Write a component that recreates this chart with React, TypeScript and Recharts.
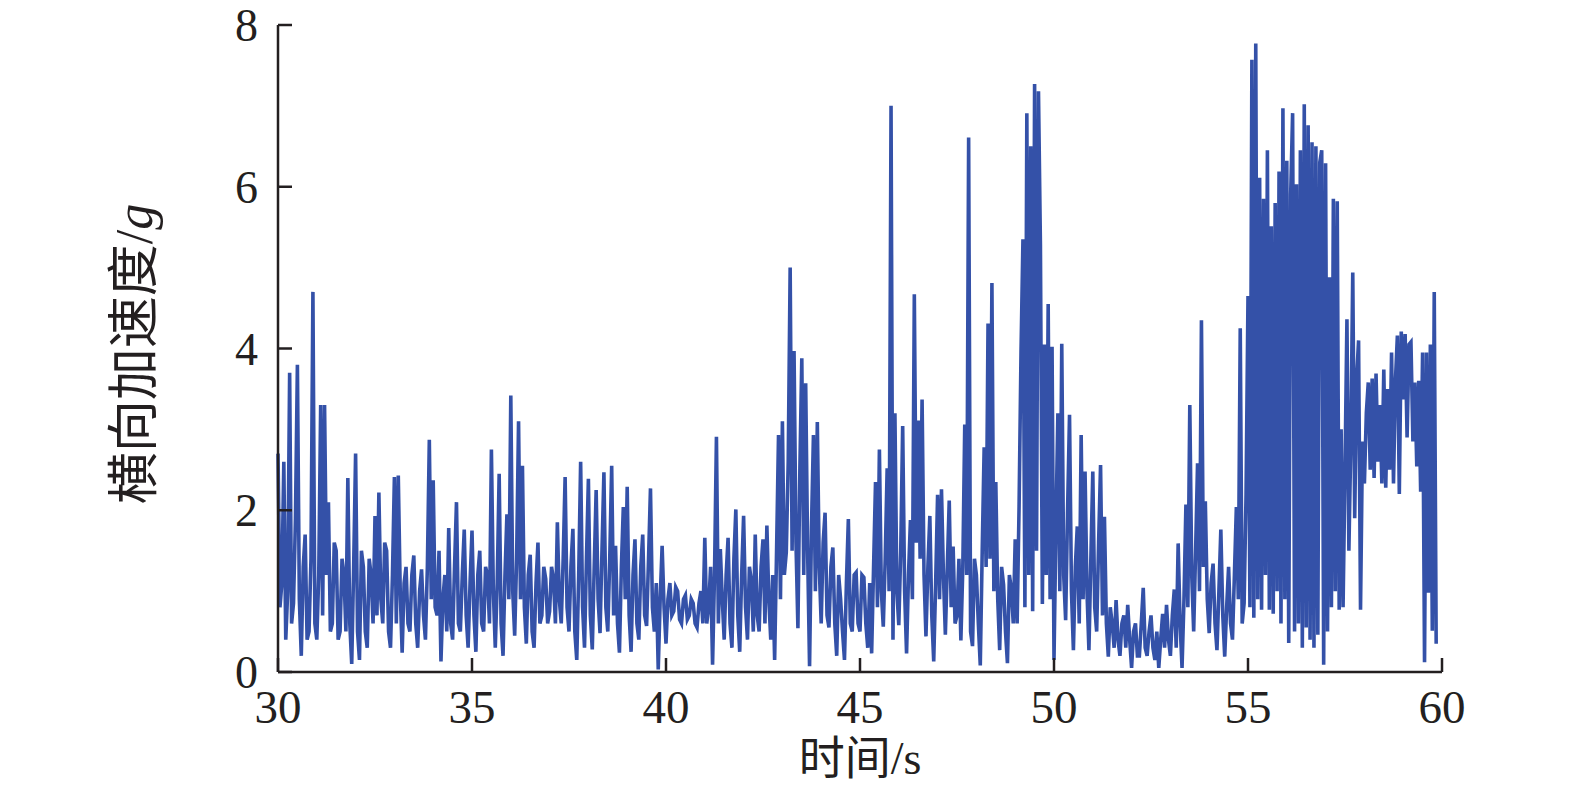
import React from "react";
import { LineChart, Line, XAxis, YAxis } from "recharts";

// lateral acceleration (g), one value every 0.05 s
const acc30to35 = [
  2.7, 0.8, 1.1, 2.6, 0.4, 1.0, 3.7, 0.6, 0.85, 1.9, 3.8, 0.9, 0.2, 1.3, 1.7, 0.4, 0.5, 1.4, 4.7, 0.6,
  0.4, 1.2, 3.3, 0.7, 3.3, 1.2, 2.1, 0.5, 0.6, 1.6, 1.5, 0.4, 0.5, 1.4, 1.2, 0.5, 2.4, 0.6, 0.1, 1.3,
  2.7, 0.5, 0.15, 1.5, 1.3, 0.5, 0.3, 1.4, 1.2, 0.6, 1.93, 0.7, 2.22, 0.9, 0.6, 1.6, 1.5, 0.5, 0.3, 1.2,
  2.41, 0.6, 2.43, 1.0, 0.24, 1.1, 1.3, 0.6, 0.5, 1.2, 1.44, 0.6, 0.3, 1.0, 1.27, 0.7, 0.4, 1.3, 2.87, 0.9,
  2.37, 0.8, 0.7, 1.5, 0.13, 0.9, 1.2, 0.5, 1.78, 0.6, 0.4, 1.3, 2.1, 0.6, 0.5, 1.2, 1.76, 0.7, 0.3, 1.1,
];
const acc35to40 = [
  1.75, 0.7, 0.25, 1.2, 1.5, 0.6, 0.5, 1.3, 1.2, 0.6, 2.75, 1.0, 0.3, 1.1, 2.45, 0.6, 0.2, 1.2, 1.95, 0.9,
  3.42, 1.0, 0.45, 1.4, 3.1, 0.9, 2.55, 0.8, 0.35, 1.2, 1.45, 0.5, 0.3, 1.1, 1.6, 0.6, 0.7, 1.3, 1.15, 0.6,
  0.75, 1.3, 1.15, 0.6, 1.85, 0.9, 0.6, 1.4, 2.41, 0.8, 0.5, 1.3, 1.77, 0.5, 0.15, 1.2, 2.6, 0.8, 0.3, 1.4,
  2.39, 0.7, 0.28, 1.3, 2.25, 0.9, 0.48, 1.5, 2.47, 0.8, 0.5, 1.4, 2.55, 0.7, 1.56, 0.6, 0.24, 1.3, 2.04, 0.9,
  2.29, 0.7, 0.25, 1.2, 1.64, 0.6, 0.4, 1.3, 1.7, 0.7, 0.57, 1.4, 2.27, 0.8, 0.5, 1.1, 0.03, 0.9, 1.56, 0.8,
];
const acc40to45 = [
  0.35, 0.9, 1.1, 0.7, 0.75, 1.05, 1.0, 0.65, 0.6, 0.9, 0.95, 0.65, 0.7, 0.9, 0.85, 0.6, 0.55, 0.85, 1.0, 0.6,
  1.66, 0.6, 0.8, 1.3, 0.09, 1.2, 2.91, 0.6, 1.52, 0.9, 0.4, 1.2, 1.66, 0.6, 0.3, 1.4, 2.01, 0.7, 0.25, 1.2,
  1.93, 0.8, 0.4, 1.3, 1.13, 0.5, 1.7, 0.7, 0.5, 1.3, 1.64, 0.6, 1.81, 0.9, 0.4, 1.2, 0.15, 1.5, 2.93, 0.9,
  3.1, 1.2, 1.48, 2.6, 5.0, 1.5, 3.97, 1.6, 0.54, 2.5, 3.88, 1.2, 3.57, 1.5, 0.07, 1.8, 2.93, 1.0, 3.09, 1.3,
  0.6, 1.6, 1.97, 0.7, 0.55, 1.3, 1.54, 0.6, 0.2, 1.2, 0.9, 0.5, 0.15, 1.1, 1.89, 0.6, 0.5, 1.2, 1.23, 0.6,
];
const acc45to49 = [
  0.5, 1.2, 1.17, 0.6, 0.3, 1.1, 0.23, 1.3, 2.35, 0.8, 2.75, 1.0, 0.56, 1.4, 2.52, 1.0, 7.0, 0.4, 3.2, 1.0,
  0.58, 1.5, 3.04, 1.0, 0.23, 1.2, 1.88, 0.9, 4.67, 1.6, 3.11, 1.4, 3.37, 1.2, 0.44, 1.3, 1.93, 0.7, 0.13, 1.1,
  2.19, 0.9, 2.26, 1.2, 0.46, 1.3, 2.12, 0.8, 1.55, 0.6, 0.7, 1.4, 0.39, 1.3, 3.06, 1.2, 6.61, 0.5, 0.32, 1.4,
  1.2, 0.6, 0.08, 1.5, 2.78, 1.3, 4.31, 1.4, 4.81, 1.0, 2.35, 0.9, 0.27, 1.3, 1.08, 0.5, 0.11, 1.2, 1.03, 0.6,
];
const acc49to50 = [
  1.64, 0.6, 2.05, 3.96, 5.35, 0.8, 6.91, 1.2, 6.5, 0.75, 7.27, 1.5, 7.18, 5.28, 0.84, 4.05, 1.2, 4.55, 0.9, 4.02,
];
const acc50to55 = [
  0.15, 1.8, 3.2, 1.0, 4.06, 1.2, 0.64, 2.0, 3.18, 1.0, 0.27, 1.3, 1.8, 0.6, 2.93, 0.9, 2.48, 1.0, 0.27, 1.4,
  2.48, 0.8, 0.5, 1.6, 2.56, 0.7, 1.92, 0.6, 0.19, 0.8, 0.6, 0.3, 0.89, 0.4, 0.2, 0.6, 0.7, 0.3, 0.83, 0.4,
  0.05, 0.5, 0.6, 0.2, 0.2, 0.6, 1.04, 0.3, 0.2, 0.5, 0.7, 0.3, 0.15, 0.5, 0.05, 0.4, 0.72, 0.3, 0.83, 0.4,
  0.2, 0.7, 1.02, 0.3, 1.59, 0.6, 0.05, 0.9, 2.07, 0.8, 3.3, 1.2, 0.5, 1.5, 2.58, 1.0, 4.35, 1.3, 2.11, 0.9,
  0.48, 1.1, 1.34, 0.6, 0.27, 1.0, 1.76, 0.7, 0.19, 0.8, 1.3, 0.6, 0.4, 1.2, 2.04, 0.9, 4.25, 0.6, 0.85, 2.2,
];
// ends at 59.85 s
const acc55to60 = [
  4.65, 0.8, 7.57, 0.67, 7.77, 0.9, 6.11, 0.77, 5.85, 1.2, 6.45, 0.77, 5.51, 0.72, 5.8, 1.0, 6.19, 0.6, 6.97, 0.9,
  6.32, 0.36, 5.9, 6.91, 0.5, 6.03, 0.6, 6.45, 0.3, 7.02, 0.55, 6.76, 0.4, 6.55, 0.3, 6.5, 0.46, 6.3, 6.45, 0.09,
  6.29, 0.5, 4.88, 0.8, 5.85, 1.0, 5.82, 0.77, 3.0, 0.8, 2.5, 4.36, 1.5, 2.85, 4.94, 1.9, 3.63, 4.1, 0.77, 2.85,
  2.33, 3.2, 3.58, 2.5, 3.63, 2.4, 3.69, 2.6, 3.3, 2.33, 3.74, 2.28, 3.5, 2.5, 3.95, 2.33, 3.6, 4.16, 2.2, 4.21,
  3.37, 4.18, 2.9, 4.05, 4.08, 2.85, 3.58, 2.54, 3.6, 2.23, 3.95, 0.12, 3.95, 0.98, 4.05, 0.51, 4.7, 0.35,
];

const segments = [
  { start: 30, values: acc30to35 },
  { start: 35, values: acc35to40 },
  { start: 40, values: acc40to45 },
  { start: 45, values: acc45to49 },
  { start: 49, values: acc49to50 },
  { start: 50, values: acc50to55 },
  { start: 55, values: acc55to60 },
];
const STEP = 0.05;

const xTicks = [30, 35, 40, 45, 50, 55, 60];
const yTicks = [0, 2, 4, 6, 8];

const data = segments.flatMap((s) =>
  s.values.map((v, i) => ({ t: +(s.start + i * STEP).toFixed(2), acc: v }))
);

const AXIS = "#231f20";
const LINE = "#3451a8";
const SERIF = '"Liberation Serif", "Noto Sans CJK SC", serif';

const XTick = ({ x, y, payload }: any) => (
  <g>
    <line x1={x} y1={y} x2={x} y2={y - 14} stroke={AXIS} strokeWidth={2.5} />
    <text x={x} y={y + 51} textAnchor="middle" fontFamily={SERIF} fontSize={47} fill={AXIS}>
      {payload.value}
    </text>
  </g>
);

const YTick = ({ x, y, payload }: any) => (
  <g>
    <line x1={x} y1={y} x2={x + 14} y2={y} stroke={AXIS} strokeWidth={2.5} />
    <text x={x - 20} y={y + 16} textAnchor="end" fontFamily={SERIF} fontSize={46} fill={AXIS}>
      {payload.value}
    </text>
  </g>
);

export default function App() {
  return (
    <div style={{ position: "absolute", left: 0, top: 0, width: 1575, height: 787, background: "#fff" }}>
      <LineChart width={1575} height={787} data={data} margin={{ top: 25, right: 133, left: 0, bottom: 0 }}>
        <XAxis
          dataKey="t"
          type="number"
          domain={[30, 60]}
          ticks={xTicks}
          interval={0}
          height={115}
          tickLine={false}
          tickSize={0}
          tickMargin={0}
          axisLine={{ stroke: AXIS, strokeWidth: 2.5 }}
          tick={XTick}
        />
        <YAxis
          type="number"
          domain={[0, 8]}
          ticks={yTicks}
          interval={0}
          width={278}
          tickLine={false}
          tickSize={0}
          tickMargin={0}
          axisLine={{ stroke: AXIS, strokeWidth: 2.5 }}
          tick={YTick}
        />
        <Line
          type="linear"
          dataKey="acc"
          stroke={LINE}
          strokeWidth={3.6}
          dot={false}
          activeDot={false}
          isAnimationActive={false}
        />
      </LineChart>
      <svg
        width={1575}
        height={787}
        style={{ position: "absolute", left: 0, top: 0, pointerEvents: "none" }}
      >
        <text x={860} y={774} textAnchor="middle" fontFamily={SERIF} fontSize={46} fill={AXIS}>
          时间/s
        </text>
        <text
          transform="translate(134,354) rotate(-90)"
          textAnchor="middle"
          dominantBaseline="central"
          fontFamily={SERIF}
          fontSize={52}
          fill={AXIS}
        >
          横向加速度/<tspan fontStyle="italic">g</tspan>
        </text>
      </svg>
    </div>
  );
}
